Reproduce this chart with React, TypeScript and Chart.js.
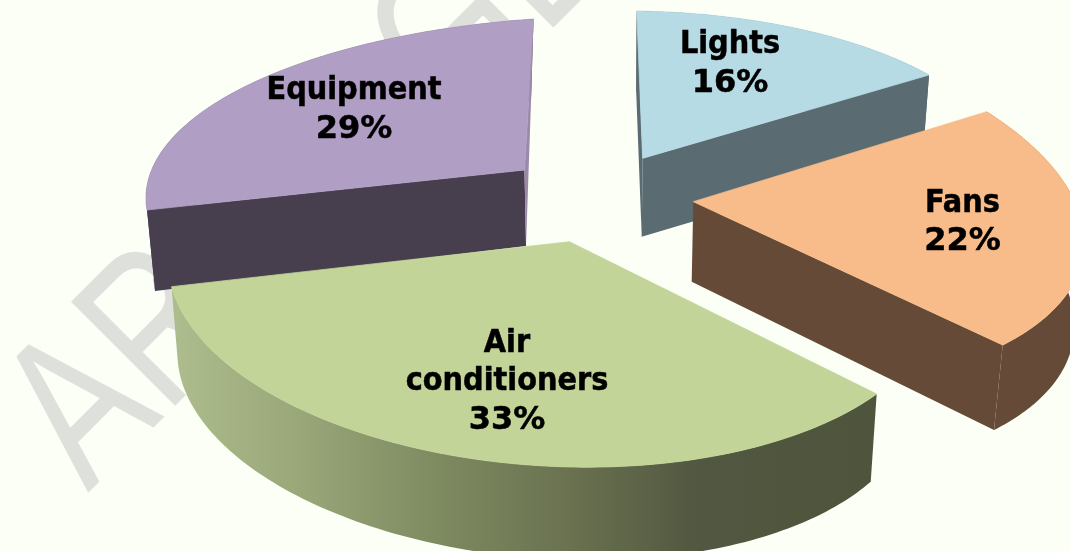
import React, { useEffect, useRef } from "react";
import { Chart, registerables } from "chart.js";

Chart.register(...registerables);

const categories: string[][] = [["Lights"], ["Fans"], ["Air", "conditioners"], ["Equipment"]];
const shares: number[] = [16, 22, 33, 29];
const topColors: string[] = ["#B6DBE5", "#F8BC8A", "#C2D498", "#B09EC4"];
const wallColors: string[] = ["#5A6B71", "#654A37", "#50553C", "#473E4E"];
// colour of the two flat cut faces of each slice (null: hidden behind the top face)
const startFaceColors: (string | null)[] = ["#5A6B71", null, null, "#473E4E"];
const endFaceColors: (string | null)[] = ["#5A6B71", "#654A37", null, "#9B88AB"];

// Perspective set-up of each exploded slice: origin, linear part [a b c d], rim bulge k
type Proj = { o: [number, number]; m: [number, number, number, number]; k: number };
const topProj: Proj[] = [
  { o: [642.7, 158.3], m: [342.9, 6, -5.2, 147.3], k: 0.15 },
  { o: [693.3, 201.7], m: [386.5, 61.5, 11.4, 185.9], k: 0.005 },
  { o: [569.4, 241.7], m: [418.2, 28.8, 5.8, 203.5], k: -0.0985 },
  { o: [524.5, 170], m: [387.4, -9, -2.5, 151], k: 0.144 },
];
const bottomProj: Proj[] = [
  { o: [641.7, 236.7], m: [336.7, 5.5, -7.1, 145], k: 0.15 },
  { o: [691.7, 281.7], m: [378.7, 59.1, 15.6, 188.8], k: 0.005 },
  { o: [568, 327], m: [410.4, 29.9, 14, 199], k: -0.142 },
  { o: [526, 246], m: [381.7, -5, -9.2, 145], k: 0.144 },
];
const drawOrder = [0, 3, 1, 2];
const labelAnchors: [number, number][] = [
  [730, 53.3],
  [962.5, 211.7],
  [507, 351.7],
  [354, 99.3],
];
const LINE_HEIGHT = 38.6;
const NAME_FONT = 'bold 32px "DejaVu Sans Condensed", "DejaVu Sans", sans-serif';
const SHARE_FONT = 'bold 32px "DejaVu Sans", sans-serif';
const BACKGROUND = "#FCFFF5";
const WATERMARK_COLOR = "#DEE1DB";
const AIR_WALL_STOPS: [number, string][] = [
  [0, "#AEBD8D"],
  [0.18, "#99A779"],
  [0.37, "#7F8B61"],
  [0.56, "#6A7250"],
  [0.75, "#515740"],
  [1, "#4F553C"],
];

const projector = (p: Proj, a0: number, a1: number) => {
  const [x1, y1, x2, y2] = [Math.cos(a0), Math.sin(a0), Math.cos(a1), Math.sin(a1)];
  const det = x1 * y2 - y1 * x2;
  const px = (p.k * y2 - y1 * p.k) / det;
  const py = (x1 * p.k - p.k * x2) / det;
  return (a: number): [number, number] => {
    const u = Math.cos(a);
    const v = Math.sin(a);
    const s = (1 + p.k) / (1 + px * u + py * v);
    return [p.o[0] + s * (p.m[0] * u + p.m[1] * v), p.o[1] + s * (p.m[2] * u + p.m[3] * v)];
  };
};

const fillPoly = (ctx: CanvasRenderingContext2D, pts: [number, number][], color: any, edge = 0) => {
  ctx.beginPath();
  pts.forEach(([x, y], i) => (i ? ctx.lineTo(x, y) : ctx.moveTo(x, y)));
  ctx.closePath();
  ctx.fillStyle = color;
  ctx.fill();
  if (edge > 0) {
    ctx.strokeStyle = color;
    ctx.lineWidth = edge;
    ctx.stroke();
  }
};

const slicePlugin = {
  id: "slices3d",
  beforeDraw(chart: any) {
    const { ctx, width, height } = chart;
    ctx.save();
    ctx.fillStyle = BACKGROUND;
    ctx.fillRect(0, 0, width, height);
    ctx.fillStyle = WATERMARK_COLOR;
    ctx.font = '214px "Liberation Sans", sans-serif';
    ctx.textBaseline = "alphabetic";
    ctx.textAlign = "left";
    const along = Math.SQRT1_2;
    const letters: [string, number, number][] = [
      ["A", 0, 0],
      ["R", 110, 0],
      ["C", 517, 0],
      ["L", 645, 0],
    ];
    for (const [t, d, h] of letters) {
      ctx.save();
      ctx.translate(88 + along * (d - h), 493 - along * (d + h));
      ctx.rotate(-Math.PI / 4);
      ctx.scale(0.76, 1);
      ctx.fillText(t, 0, 0);
      ctx.restore();
    }
    // corner fragment of a further watermark letter, cut off by the top edge
    ctx.save();
    ctx.beginPath();
    ctx.rect(440, 0, 80, 30);
    ctx.clip();
    ctx.translate(491.5, -16.5);
    ctx.rotate((3 * Math.PI) / 4);
    ctx.scale(0.76, 1);
    ctx.fillText("L", 0, 0);
    ctx.restore();
    ctx.restore();
  },
  beforeDatasetsDraw(chart: any) {
    const { ctx } = chart;
    const arcs = chart.getDatasetMeta(0).data;
    ctx.save();
    for (const i of drawOrder) {
      const { startAngle: a0, endAngle: a1 } = arcs[i].getProps(["startAngle", "endAngle"], true);
      const top = projector(topProj[i], a0, a1);
      const bot = projector(bottomProj[i], a0, a1);
      const n = 120;
      const angle = (j: number) => a0 + ((a1 - a0) * j) / n;
      // curved side wall, as one band between the upper and the lower rim
      let paint: any = wallColors[i];
      if (i === 2) {
        const g = ctx.createLinearGradient(172, 0, 877, 0);
        AIR_WALL_STOPS.forEach(([s, c]) => g.addColorStop(s, c));
        paint = g;
      }
      const band: [number, number][] = [];
      for (let j = 0; j <= n; j++) band.push(top(angle(j)));
      for (let j = n; j >= 0; j--) band.push(bot(angle(j)));
      fillPoly(ctx, band, paint);
      // flat cut faces
      const s = startFaceColors[i];
      const e = endFaceColors[i];
      if (s) fillPoly(ctx, [topProj[i].o, top(a0), bot(a0), bottomProj[i].o], s);
      if (e) fillPoly(ctx, [topProj[i].o, top(a1), bot(a1), bottomProj[i].o], e);
      // top face
      const face: [number, number][] = [topProj[i].o];
      for (let j = 0; j <= n; j++) face.push(top(angle(j)));
      fillPoly(ctx, face, topColors[i], 0.8);
    }
    ctx.restore();
    return false;
  },
  afterDraw(chart: any) {
    const { ctx } = chart;
    ctx.save();
    ctx.fillStyle = "#000000";
    ctx.strokeStyle = "#000000";
    ctx.lineWidth = 0.5;
    ctx.textAlign = "center";
    ctx.textBaseline = "alphabetic";
    categories.forEach((lines, i) => {
      const [x, y] = labelAnchors[i];
      const rows = [...lines, `${shares[i]}%`];
      rows.forEach((t, j) => {
        ctx.font = j === rows.length - 1 ? SHARE_FONT : NAME_FONT;
        ctx.fillText(t, x, y + j * LINE_HEIGHT);
        ctx.strokeText(t, x, y + j * LINE_HEIGHT);
      });
    });
    ctx.restore();
  },
};

export default function App() {
  const ref = useRef<HTMLCanvasElement>(null);
  useEffect(() => {
    document.body.style.margin = "0";
    document.body.style.background = BACKGROUND;
    const chart = new Chart(ref.current as HTMLCanvasElement, {
      type: "pie",
      data: {
        labels: categories.map((l) => l.join(" ")),
        datasets: [{ data: shares, backgroundColor: topColors, borderWidth: 0 }],
      },
      options: {
        responsive: false,
        animation: false,
        plugins: { legend: { display: false }, tooltip: { enabled: false } },
      },
      plugins: [slicePlugin],
    } as any);
    return () => chart.destroy();
  }, []);
  return <canvas ref={ref} width={1070} height={551} style={{ display: "block" }} />;
}
